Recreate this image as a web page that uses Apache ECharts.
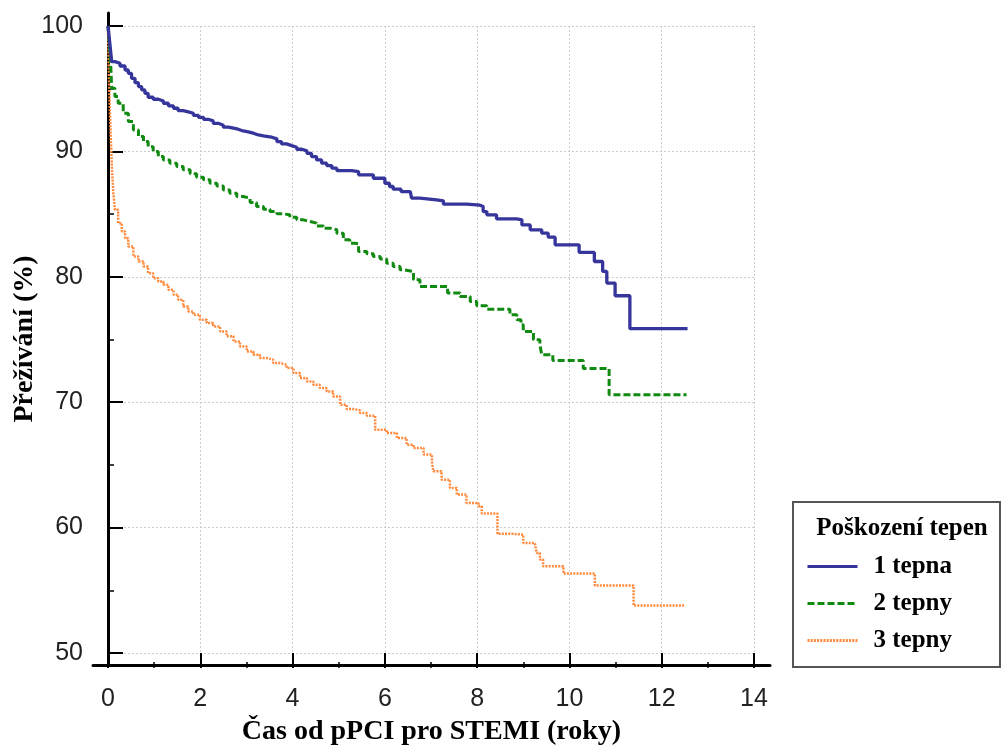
<!DOCTYPE html>
<html>
<head>
<meta charset="utf-8">
<script src="https://cdn.jsdelivr.net/npm/echarts@6/dist/echarts.min.js"></script>
<style>
  html, body { margin: 0; padding: 0; background: #fff; }
  #chart { width: 1007px; height: 751px; }
</style>
</head>
<body>
<div id="chart"></div>
<script>
// Kaplan–Meier survival after pPCI for STEMI, by number of affected arteries.
// Each pair is [time in years, survival in %]; the curve drops to the value at that time.
const survival1 = [
  [0,100],[0.04,98.6],[0.08,97.16],[0.15,97.03],[0.26,96.81],[0.37,96.49],[0.44,96.23],[0.51,95.83],
  [0.585,95.48],[0.66,95.17],[0.73,94.9],[0.8,94.63],[0.87,94.32],[0.98,94.16],[1.09,94.02],[1.2,93.84],
  [1.31,93.63],[1.42,93.44],[1.52,93.25],[1.63,93.15],[1.74,93.04],[1.85,92.88],[1.96,92.72],[2.07,92.56],
  [2.17,92.43],[2.28,92.24],[2.39,92.09],[2.5,91.93],[2.61,91.85],[2.72,91.77],[2.82,91.63],[2.93,91.55],
  [3.04,91.45],[3.15,91.31],[3.26,91.24],[3.37,91.18],[3.47,91.13],[3.55,91.0],[3.66,90.78],[3.76,90.6],
  [3.87,90.46],[3.98,90.33],[4.09,90.17],[4.2,90.04],[4.31,89.85],[4.41,89.59],[4.52,89.32],[4.63,89.06],
  [4.74,88.87],[4.85,88.66],[4.96,88.47],[5.28,88.39],[5.43,88.13],[5.75,87.86],[6.0,87.46],[6.1,87.2],
  [6.18,86.99],[6.35,86.8],[6.55,86.67],[6.58,86.27],[6.76,86.14],[7.12,86.06],[7.27,85.79],[7.77,85.71],
  [8.06,85.6],[8.13,85.2],[8.21,84.94],[8.42,84.62],[8.86,84.54],[8.97,84.14],[9.15,83.75],[9.4,83.48],
  [9.54,83.16],[9.69,82.55],[10.21,81.94],[10.54,81.22],[10.72,80.43],[10.81,79.5],[10.99,78.49],
  [11.31,75.86],[12.56,75.86]
];
const survival2 = [
  [0,100],[0.03,98.5],[0.06,96.8],[0.08,95.03],[0.15,94.37],[0.22,93.84],[0.33,93.04],[0.44,92.38],
  [0.55,91.71],[0.66,91.18],[0.77,90.78],[0.87,90.38],[0.98,89.99],[1.09,89.59],[1.2,89.32],[1.34,89.06],
  [1.49,88.79],[1.63,88.53],[1.78,88.21],[1.92,87.94],[2.07,87.73],[2.21,87.46],[2.36,87.25],[2.5,86.93],
  [2.64,86.67],[2.79,86.4],[2.93,86.27],[3.08,85.92],[3.22,85.6],[3.37,85.39],[3.51,85.21],[3.66,85.02],
  [3.8,84.94],[3.94,84.75],[4.09,84.54],[4.23,84.41],[4.38,84.28],[4.52,84.06],[4.67,83.88],[4.81,83.75],
  [4.96,83.48],[5.1,82.95],[5.24,82.68],[5.35,82.63],[5.43,82.02],[5.61,81.83],[5.75,81.62],[5.9,81.41],
  [6.04,81.09],[6.18,80.82],[6.33,80.56],[6.4,80.42],[6.62,79.76],[6.76,79.23],[7.36,78.7],[7.63,78.43],
  [7.85,78.03],[7.99,77.69],[8.21,77.42],[8.71,76.97],[8.86,76.57],[8.95,76.18],[9.0,75.64],[9.22,74.98],
  [9.36,74.58],[9.4,73.78],[9.64,73.33],[10.3,72.68],[10.86,70.6],[12.54,70.6]
];
const survival3 = [
  [0,100],[0.02,95.96],[0.04,93.31],[0.065,90.65],[0.087,88.53],[0.116,86.67],[0.15,85.34],[0.22,84.28],
  [0.3,83.61],[0.37,83.08],[0.44,82.42],[0.55,81.62],[0.66,81.22],[0.77,80.82],[0.87,80.29],[0.98,79.89],
  [1.09,79.63],[1.2,79.36],[1.31,78.96],[1.42,78.57],[1.52,78.17],[1.63,77.64],[1.74,77.24],[1.85,76.97],
  [1.99,76.57],[2.14,76.31],[2.28,76.04],[2.43,75.64],[2.57,75.25],[2.72,74.85],[2.86,74.45],[3.01,74.05],
  [3.15,73.78],[3.29,73.52],[3.44,73.39],[3.58,73.12],[3.73,72.99],[3.87,72.72],[4.02,72.32],[4.16,71.93],
  [4.31,71.66],[4.45,71.39],[4.59,71.13],[4.74,70.86],[4.88,70.46],[5.03,69.8],[5.17,69.46],[5.32,69.35],
  [5.46,69.14],[5.61,68.92],[5.79,67.8],[6.04,67.54],[6.26,67.14],[6.47,66.61],[6.62,66.35],[6.84,65.82],
  [7.02,65.28],[7.05,64.49],[7.23,63.82],[7.41,63.16],[7.56,62.63],[7.77,61.97],[8.03,61.7],[8.1,61.12],
  [8.44,59.5],[8.78,59.44],[9.0,58.78],[9.25,58.73],[9.29,57.98],[9.36,57.45],[9.43,56.92],[9.87,56.33],
  [10.55,55.38],[11.39,53.78],[12.51,53.78]
];

const seriesNames = ['1 tepna', '2 tepny', '3 tepny'];
const legendTitle = 'Poškození tepen';
const xAxisTitle = 'Čas od pPCI pro STEMI (roky)';
const yAxisTitle = 'Přežívání (%)';

const tickFont = { fontFamily: 'Liberation Sans, Arial, sans-serif', fontSize: 25, color: '#222' };
const serifBold = { fontFamily: 'Liberation Serif, Times New Roman, serif', fontWeight: 'bold', color: '#000' };

const chart = echarts.init(document.getElementById('chart'), null, { renderer: 'canvas' });

chart.setOption({
  animation: false,
  backgroundColor: '#fff',
  title: {
    text: legendTitle,
    left: 902, top: 516, textAlign: 'center', padding: 0,
    textStyle: Object.assign({ fontSize: 25 }, serifBold)
  },
  legend: {
    data: seriesNames,
    orient: 'vertical',
    left: 793, top: 502,
    padding: [52, 48, 14, 13],
    itemGap: 12,
    itemWidth: 50,
    itemHeight: 22,
    borderColor: '#555',
    borderWidth: 2,
    selectedMode: false,
    itemStyle: { opacity: 0 },
    lineStyle: { width: 3 },
    textStyle: Object.assign({ fontSize: 25, padding: [0, 0, 0, 11] }, serifBold)
  },
  grid: [
    // outer frame carrying the axis lines and axis titles
    { left: 93, top: 13, right: 237, bottom: 83, containLabel: false },
    // plotting area with ticks, labels and grid lines
    { left: 108, top: 26, right: 253, bottom: 98, containLabel: false }
  ],
  xAxis: [
    {
      gridIndex: 0, type: 'value', min: -0.325, max: 14.35,
      axisLine: { show: true, lineStyle: { color: '#000', width: 3 } },
      axisTick: { show: false }, axisLabel: { show: false }, splitLine: { show: false },
      name: xAxisTitle, nameLocation: 'middle', nameGap: 53,
      nameTextStyle: Object.assign({ fontSize: 28 }, serifBold)
    },
    {
      gridIndex: 1, type: 'value', min: 0, max: 14, interval: 2, offset: 15,
      axisLine: { show: false },
      axisTick: { show: true, inside: true, length: 15, lineStyle: { color: '#000', width: 2 } },
      minorTick: { show: true, splitNumber: 2, length: 6, lineStyle: { color: '#000', width: 1.5 } },
      axisLabel: Object.assign({ margin: 19 }, tickFont),
      splitLine: { show: true, lineStyle: { color: '#cccccc', width: 1, type: [2, 2] } }
    }
  ],
  yAxis: [
    {
      gridIndex: 0, type: 'value', min: 48.8, max: 101.0,
      axisLine: { show: true, lineStyle: { color: '#000', width: 3 } },
      axisTick: { show: false }, axisLabel: { show: false }, splitLine: { show: false },
      name: yAxisTitle, nameLocation: 'middle', nameGap: 54, nameRotate: 90,
      nameTextStyle: Object.assign({ fontSize: 28 }, serifBold)
    },
    {
      gridIndex: 1, type: 'value', min: 50, max: 100, interval: 10, offset: 15,
      axisLine: { show: false },
      axisTick: { show: true, inside: true, length: 15, lineStyle: { color: '#000', width: 2 } },
      minorTick: { show: true, splitNumber: 2, length: 6, lineStyle: { color: '#000', width: 1.5 } },
      axisLabel: Object.assign({ margin: 10 }, tickFont),
      splitLine: { show: true, lineStyle: { color: '#cccccc', width: 1, type: [2, 2] } }
    }
  ],
  series: [
    {
      name: seriesNames[0], type: 'line', step: 'end', xAxisIndex: 1, yAxisIndex: 1,
      data: survival1, symbol: 'none', silent: true, z: 5,
      lineStyle: { color: '#35359b', width: 3.3, type: 'solid' },
      itemStyle: { color: '#35359b' }
    },
    {
      name: seriesNames[1], type: 'line', step: 'end', xAxisIndex: 1, yAxisIndex: 1,
      data: survival2, symbol: 'none', silent: true, z: 4,
      lineStyle: { color: '#108a10', width: 3, type: [7, 3] },
      itemStyle: { color: '#108a10' }
    },
    {
      name: seriesNames[2], type: 'line', step: 'end', xAxisIndex: 1, yAxisIndex: 1,
      data: survival3, symbol: 'none', silent: true, z: 3,
      lineStyle: { color: '#ff8a3d', width: 2.5, type: [2, 1.2] },
      itemStyle: { color: '#ff8a3d' }
    }
  ]
});
</script>
</body>
</html>
